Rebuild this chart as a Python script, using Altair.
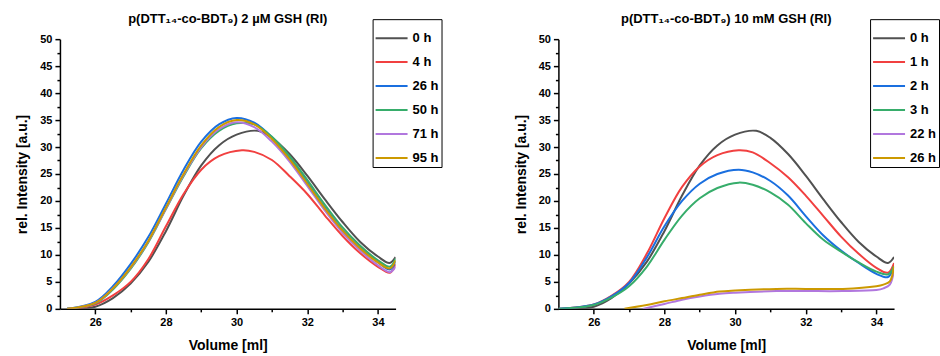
import altair as alt
import pandas as pd

# ---------------- data ----------------
# 0 h reference curve (shared by both panels)
x_0h = [25.4, 26, 26.5, 27, 27.5, 28, 28.5, 29, 29.5, 30, 30.6, 31, 31.5, 32, 32.5, 33, 33.5, 34, 34.33, 34.5]
y_0h = [0, 0.4, 2.0, 4.7, 8.7, 14.4, 21.0, 26.6, 30.3, 32.3, 33.0, 31.7, 28.7, 24.7, 20.3, 16.1, 12.4, 9.7, 8.5, 9.6]

# left panel: 2 uM GSH
x_l = [25.2, 26, 26.5, 27, 27.5, 28, 28.5, 29, 29.5, 30, 30.5, 31, 31.5, 32, 32.5, 33, 33.5, 34, 34.34, 34.5]
x_4h = [25.3, 26, 26.5, 27, 27.5, 28, 28.5, 29, 29.5, 30.15, 30.5, 31, 31.5, 32, 32.5, 33, 33.5, 34, 34.34, 34.5]
y_4h = [0, 0.8, 2.5, 5.0, 9.2, 15.3, 21.3, 25.8, 28.3, 29.4, 29.1, 27.6, 24.6, 21.3, 17.3, 13.5, 10.3, 7.8, 6.7, 8.3]
y_26h = [0, 1.3, 4.2, 8.3, 13.3, 19.5, 25.8, 31.0, 34.2, 35.4, 34.5, 31.8, 28.0, 23.4, 18.8, 14.6, 11.3, 8.7, 7.3, 8.8]
y_50h = [0, 1.0, 3.6, 7.4, 12.3, 18.5, 24.6, 29.8, 33.0, 34.4, 34.2, 31.9, 28.3, 23.9, 19.3, 15.1, 11.7, 9.0, 7.8, 9.3]
y_71h = [0, 1.1, 3.8, 7.6, 12.5, 18.6, 24.8, 30.0, 33.3, 34.6, 33.7, 31.0, 27.3, 22.8, 18.2, 14.1, 10.8, 8.1, 6.8, 7.8]
y_95h = [0, 1.1, 3.8, 7.7, 12.6, 18.8, 25.0, 30.3, 33.7, 35.0, 34.2, 31.5, 27.7, 23.2, 18.6, 14.5, 11.2, 8.6, 7.5, 9.0]

# right panel: 10 mM GSH
x_r = [25.0, 26, 26.5, 27, 27.5, 28, 28.5, 29, 29.5, 30.1, 30.5, 31, 31.5, 32, 32.5, 33, 33.5, 34, 34.33, 34.5]
y_1h = [0, 0.8, 2.4, 5.0, 10.2, 16.8, 22.6, 26.4, 28.5, 29.4, 29.0, 27.0, 24.4, 21.0, 17.2, 13.4, 10.2, 7.6, 6.7, 8.5]
y_2h = [0, 0.8, 2.3, 4.8, 9.5, 15.3, 20.0, 23.2, 25.0, 25.8, 25.3, 23.7, 21.0, 17.2, 13.6, 10.8, 8.5, 6.5, 5.9, 7.9]
y_3h = [0, 0.7, 2.1, 4.2, 7.8, 12.8, 17.3, 20.5, 22.4, 23.4, 23.0, 21.6, 19.3, 15.9, 12.8, 10.6, 8.6, 6.9, 6.4, 7.9]
x_22h = [27.39, 28, 28.5, 29, 29.56, 30, 31.17, 32, 33.05, 34, 34.2, 34.38, 34.5]
y_22h = [0, 0.9, 1.7, 2.3, 2.8, 3.0, 3.3, 3.3, 3.3, 3.5, 3.8, 4.5, 7.2]
x_26h_r = [26.87, 27.5, 28, 28.5, 29, 29.56, 30, 31.17, 32, 33.05, 34, 34.2, 34.38, 34.5]
y_26h_r = [0, 0.7, 1.4, 2.0, 2.6, 3.2, 3.4, 3.7, 3.7, 3.7, 4.2, 4.5, 5.1, 7.9]

labels_l = ["0 h", "4 h", "26 h", "50 h", "71 h", "95 h"]
labels_r = ["0 h", "1 h", "2 h", "3 h", "22 h", "26 h"]
colors = ["#515151", "#F14040", "#1A6FDF", "#37AD6B", "#B177DE", "#CC9900"]

title_l = "p(DTT\u2081\u2084-co-BDT\u2089) 2 \u00b5M GSH (RI)"
title_r = "p(DTT\u2081\u2084-co-BDT\u2089) 10 mM GSH (RI)"


def frame(series):
    rows = []
    for k, (name, xs, ys) in enumerate(series):
        for xv, yv in zip(xs, ys):
            rows.append({"s": name, "o": k, "v": xv, "i": yv})
    return pd.DataFrame(rows)


df_l = frame([("0 h", x_0h, y_0h), ("4 h", x_4h, y_4h), ("26 h", x_l, y_26h),
              ("50 h", x_l, y_50h), ("71 h", x_l, y_71h), ("95 h", x_l, y_95h)])
df_r = frame([("0 h", x_0h, y_0h), ("1 h", x_r, y_1h), ("2 h", x_r, y_2h),
              ("3 h", x_r, y_3h), ("22 h", x_22h, y_22h), ("26 h", x_26h_r, y_26h_r)])

FONT = "Liberation Sans"


def panel(df, title, labels, lx):
    x_axis = alt.Axis(
        title="Volume [ml]", values=list(range(26, 35)),
        labelExpr="datum.value % 2 == 0 ? datum.label : ''",
        tickSize={"condition": {"test": "datum.value % 2 != 0", "value": 3}, "value": 5},
        grid=False, domainColor="black", domainWidth=1.5, tickColor="black", tickWidth=1.5,
        labelFont=FONT, labelFontSize=11, labelFontWeight="bold", labelColor="black",
        labelPadding=3, titleFont=FONT, titleFontSize=14, titleFontWeight="bold",
        titleColor="black", titlePadding=11,
    )
    y_axis = alt.Axis(
        title="rel. Intensity [a.u.]", values=[i * 2.5 for i in range(21)],
        labelExpr="datum.value % 5 == 0 ? datum.label : ''",
        tickSize={"condition": {"test": "datum.value % 5 != 0", "value": 3}, "value": 5},
        grid=False, domainColor="black", domainWidth=1.5, tickColor="black", tickWidth=1.5,
        labelFont=FONT, labelFontSize=11, labelFontWeight="bold", labelColor="black",
        labelPadding=3, titleFont=FONT, titleFontSize=14, titleFontWeight="bold",
        titleColor="black", titlePadding=10,
    )
    legend = alt.Legend(
        title=None, orient="none", legendX=lx, legendY=-20, direction="vertical",
        symbolType="stroke", symbolSize=1024, symbolStrokeWidth=2, symbolOffset=0,
        labelFont=FONT, labelFontSize=13, labelFontWeight="bold", labelColor="black",
        labelOffset=4, rowPadding=-19, padding=2, strokeColor="black", fillColor="white",
        cornerRadius=0,
    )
    return alt.Chart(df).mark_line(strokeWidth=2, interpolate="catmull-rom", clip=True).encode(
        x=alt.X("v:Q", scale=alt.Scale(domain=[25, 34.5], nice=False, zero=False), axis=x_axis),
        y=alt.Y("i:Q", scale=alt.Scale(domain=[0, 50], nice=False), axis=y_axis),
        color=alt.Color("s:N", scale=alt.Scale(domain=labels, range=colors), legend=legend),
        order=alt.Order("o:Q"),
    ).properties(
        width=336, height=270,
        title=alt.TitleParams(title, font=FONT, fontSize=13, fontWeight="bold", color="black",
                              anchor="middle", offset=8, dy=15),
    )


chart = alt.hconcat(
    panel(df_l, title_l, labels_l, 313),
    panel(df_r, title_r, labels_r, 312),
    spacing=71,
).resolve_scale(color="independent").resolve_legend(color="independent").configure_view(
    stroke=None
).properties(padding={"left": 15, "top": 12, "right": 0, "bottom": 0})

chart.save("out.html", embed_options={"renderer": "svg", "actions": False})
